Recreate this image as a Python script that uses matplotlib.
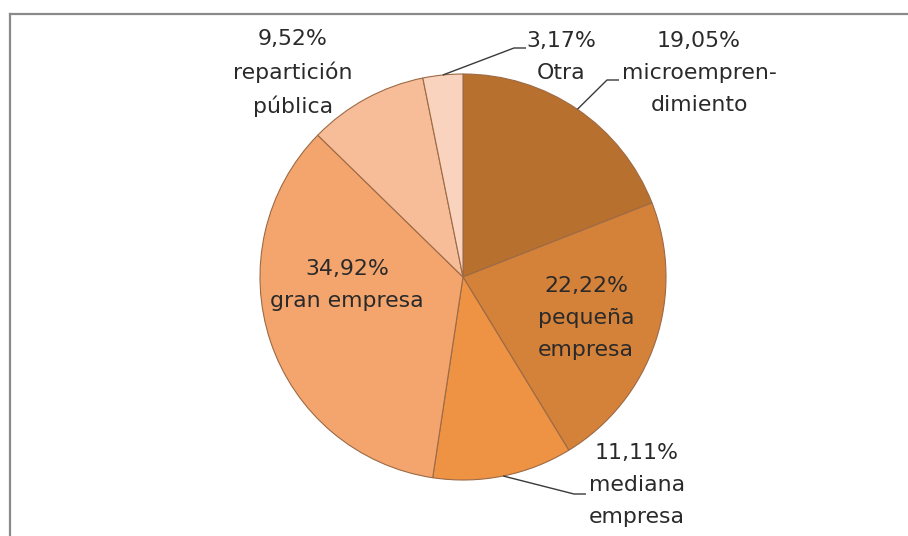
import numpy as np
import matplotlib
matplotlib.use("Agg")
import matplotlib.pyplot as plt
from matplotlib.lines import Line2D

# Share of respondents by workplace type
categories = ["microempren-\ndimiento", "pequeña\nempresa", "mediana\nempresa",
              "gran empresa", "repartición\npública", "Otra"]
values = [19.05, 22.22, 11.11, 34.92, 9.52, 3.17]
colors = ["#B8702F", "#D4813A", "#EE9243", "#F4A56D", "#F6BD98", "#F9D3BD"]

W, H = 908, 536
fig = plt.figure(figsize=(W / 100, H / 100), dpi=100)
ax = fig.add_axes([0, 0, 1, 1])

cx, cy, r = 463, H - 277, 203

wedges, _ = ax.pie(values, colors=colors, startangle=90, counterclock=False,
                   radius=r, center=(cx, cy), frame=True,
                   wedgeprops=dict(edgecolor="#9C6A45", linewidth=0.8))
ax.set_xlim(0, W)
ax.set_ylim(0, H)
ax.set_aspect("equal")
ax.axis("off")

font = dict(family="DejaVu Sans", fontsize=15.8, color="#2A2A2A", ha="center",
            va="center", linespacing=1.72)

def label(i):
    return f"{values[i]:.2f}".replace(".", ",") + "%\n" + categories[i]

# (label centre x, label centre y from top, leader end x, leader end y from top)
layout = [
    (699, 73, 607, 80),
    (586, 318, None, None),
    (637, 485, 574, 494),
    (347, 285, None, None),
    (293, 73, None, None),
    (561, 57, 514, 48),
]

for i, (w, (lx, ly, ex, ey)) in enumerate(zip(wedges, layout)):
    ax.text(lx, H - ly, label(i), **font)
    if ex is not None:
        mid = np.deg2rad((w.theta1 + w.theta2) / 2)
        sx, sy = cx + r * np.cos(mid), cy + r * np.sin(mid)
        ax.plot([sx, ex, ex + 12], [sy, H - ey, H - ey],
                color="#3A3A3A", linewidth=1.0, solid_capstyle="butt")

# Chart-area border
fig.add_artist(Line2D([10 / W, 10 / W], [0, 1 - 13.5 / H], transform=fig.transFigure,
                      color="#8A8A8A", linewidth=1.6))
fig.add_artist(Line2D([10 / W, 1], [1 - 13.5 / H, 1 - 13.5 / H], transform=fig.transFigure,
                      color="#8A8A8A", linewidth=1.6))

fig.savefig("out.png", dpi=100, facecolor="white")
